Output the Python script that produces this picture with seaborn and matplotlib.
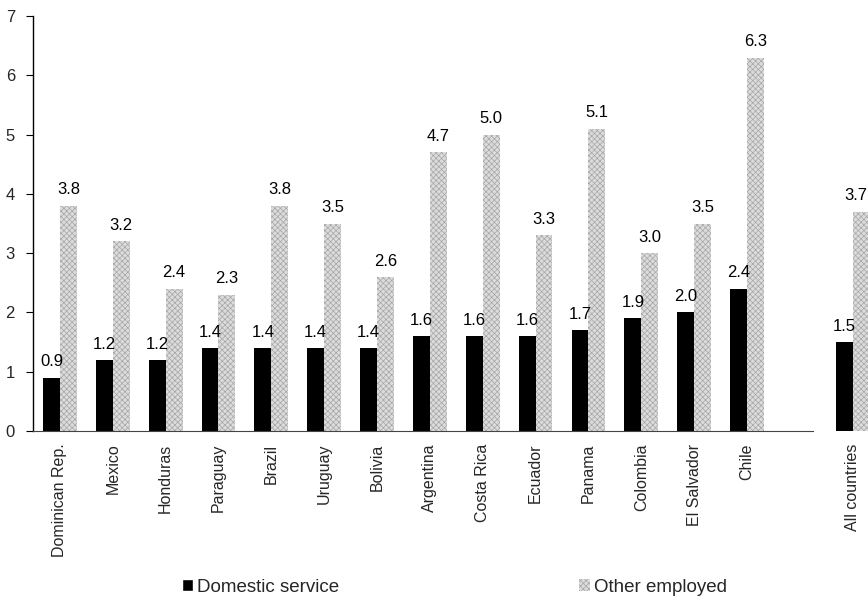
import matplotlib
matplotlib.use("Agg")
import matplotlib.pyplot as plt
import seaborn as sns
import pandas as pd

# Values per country (ratio), domestic service vs other employed
countries = ["Dominican Rep.", "Mexico", "Honduras", "Paraguay", "Brazil", "Uruguay",
             "Bolivia", "Argentina", "Costa Rica", "Ecuador", "Panama", "Colombia",
             "El Salvador", "Chile", "All countries"]
domestic_service = [0.9, 1.2, 1.2, 1.4, 1.4, 1.4, 1.4, 1.6, 1.6, 1.6, 1.7, 1.9, 2.0, 2.4, 1.5]
other_employed = [3.8, 3.2, 2.4, 2.3, 3.8, 3.5, 2.6, 4.7, 5.0, 3.3, 5.1, 3.0, 3.5, 6.3, 3.7]
series_names = ["Domestic service", "Other employed"]
y_ticks = [0, 1, 2, 3, 4, 5, 6, 7]

df = pd.DataFrame({
    "country": countries * 2,
    "value": domestic_service + other_employed,
    "group": [series_names[0]] * len(countries) + [series_names[1]] * len(countries),
})

# leave an empty slot before the aggregate group
order = countries[:-1] + [" "] + countries[-1:]

sns.set_theme(style="white")
plt.rcParams["font.family"] = ["Liberation Sans", "DejaVu Sans"]
plt.rcParams["hatch.linewidth"] = 0.5

fig = plt.figure(figsize=(8.68, 5.98), dpi=100)
W, H = 868, 598
ax = fig.add_axes([33 / W, 1 - 431 / H, 835 / W, (431 - 16) / H])

GREY_FACE = "#dcdcdc"
GREY_HATCH = "#a6a6a6"

sns.barplot(data=df, x="country", y="value", hue="group", order=order,
            hue_order=series_names, palette=["#000000", GREY_FACE],
            width=0.64, saturation=1, errorbar=None, ax=ax, legend=True)

# stippled look for the second series
for bar in ax.containers[1]:
    bar.set_hatch("xxxxxx")
    bar.set_edgecolor(GREY_HATCH)
    bar.set_linewidth(0)
for bar in ax.containers[0]:
    bar.set_linewidth(0)

label_sets = []
for cont in ax.containers:
    label_sets.append(ax.bar_label(cont, fmt="%.1f", padding=6, fontsize=12, color="black"))

# keep the last value label inside the figure edge
last = label_sets[1][-1]
last.xyann = (-4, 6)

ax.set_xlim(-0.51, 15.29)
ax.set_ylim(0, 7)
ax.set_yticks(y_ticks)
ax.set_xlabel("")
ax.set_ylabel("")

for s in ["top", "right"]:
    ax.spines[s].set_visible(False)
ax.spines["left"].set_color("black")
ax.spines["left"].set_linewidth(1.0)
ax.spines["bottom"].set_color("#444444")
ax.spines["bottom"].set_linewidth(0.8)
ax.spines["bottom"].set_bounds(-0.51, 14.25)

ax.tick_params(axis="y", which="major", left=True, length=5, width=0.8,
               direction="out", color="black", labelsize=12, pad=8)
ax.tick_params(axis="x", which="major", bottom=False, length=0, labelsize=11.5,
               pad=9, labelrotation=90)
for lbl in ax.get_xticklabels():
    lbl.set_verticalalignment("top")
    lbl.set_horizontalalignment("center")

# legend across the bottom
handles, labels = ax.get_legend_handles_labels()
ax.get_legend().remove()
leg = fig.legend(handles, labels, ncol=2, frameon=False, fontsize=13.5,
                 loc="center left", bbox_to_anchor=(182 / W, 1 - 587 / H),
                 borderpad=0, borderaxespad=0, handlelength=0.6, handleheight=0.6,
                 handletextpad=0.2, columnspacing=12.8)
lh = leg.legend_handles[1]
lh.set_hatch("xxxxxx")
lh.set_edgecolor(GREY_HATCH)
lh.set_linewidth(0)

fig.savefig("out.png", dpi=100)
